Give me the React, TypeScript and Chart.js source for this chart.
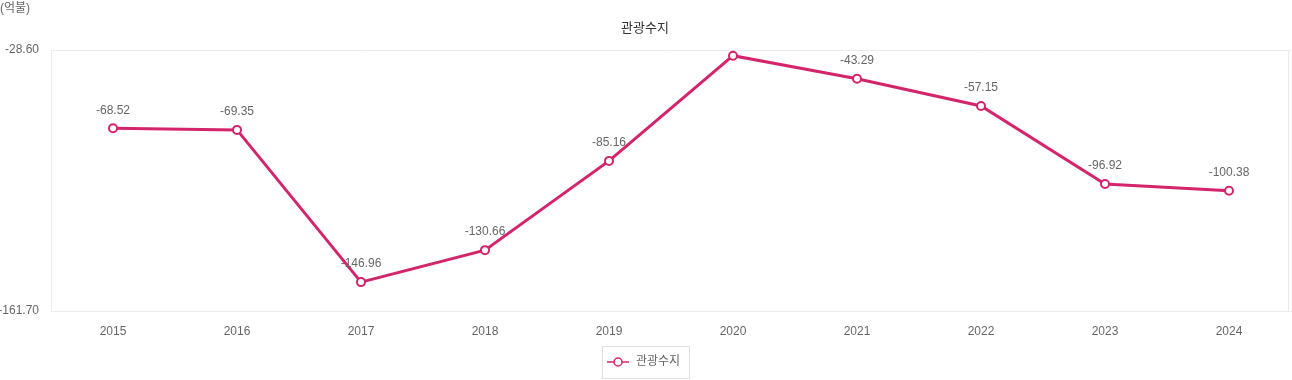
import React, { useEffect, useRef } from "react";
import { Chart, registerables } from "chart.js";

Chart.register(...registerables);

const categories = ["2015", "2016", "2017", "2018", "2019", "2020", "2021", "2022", "2023", "2024"];
const values = [-68.52, -69.35, -146.96, -130.66, -85.16, -31.5, -43.29, -57.15, -96.92, -100.38];
const yTicks = [-161.7, -28.6];
const seriesName = "관광수지";
const titleText = "관광수지";
const unitText = "(억불)";

const FONT = "'Liberation Sans', Arial, 'Noto Sans CJK KR', sans-serif";
const LINE = "#d4246c";

export default function App() {
  const ref = useRef<HTMLCanvasElement | null>(null);
  useEffect(() => {
    if (!ref.current) return;
    const deco = {
      id: "deco",
      afterDraw(chart: any) {
        const ctx = chart.ctx;
        const a = chart.chartArea;
        ctx.save();
        // right border
        ctx.strokeStyle = "#ebebeb";
        ctx.lineWidth = 1;
        ctx.beginPath();
        ctx.moveTo(1288.5, a.top);
        ctx.lineTo(1288.5, a.bottom);
        ctx.stroke();
        // unit
        ctx.fillStyle = "#666";
        ctx.font = "12px " + FONT;
        ctx.textAlign = "left";
        ctx.textBaseline = "middle";
        ctx.fillText(unitText, 0, 9);
        // title
        ctx.fillStyle = "#333";
        ctx.font = "13px " + FONT;
        ctx.textAlign = "center";
        ctx.fillText(titleText, 645, 28);
        // legend
        ctx.strokeStyle = "#e0e0e0";
        ctx.strokeRect(602.5, 346.5, 87, 32);
        ctx.strokeStyle = LINE;
        ctx.lineWidth = 1.5;
        ctx.beginPath();
        ctx.moveTo(607, 362);
        ctx.lineTo(629, 362);
        ctx.stroke();
        ctx.beginPath();
        ctx.arc(618, 362, 4, 0, Math.PI * 2);
        ctx.fillStyle = "#fff";
        ctx.fill();
        ctx.stroke();
        ctx.fillStyle = "#666";
        ctx.font = "12px " + FONT;
        ctx.textAlign = "left";
        ctx.fillText(seriesName, 636, 362);
        // data labels
        const meta = chart.getDatasetMeta(0);
        ctx.font = "12px " + FONT;
        ctx.fillStyle = "#666";
        ctx.textAlign = "center";
        meta.data.forEach((p: any, i: number) => {
          const y = p.y - 18;
          if (y < a.top) return;
          ctx.fillText(values[i].toFixed(2), p.x, y);
        });
        ctx.restore();
      },
    };
    const chart = new Chart(ref.current, {
      type: "line",
      data: {
        labels: categories,
        datasets: [
          {
            label: seriesName,
            data: values,
            borderColor: LINE,
            backgroundColor: "#fff",
            borderWidth: 3,
            pointRadius: 4,
            pointBorderWidth: 2,
            pointBackgroundColor: "#fff",
            pointBorderColor: LINE,
            tension: 0,
            clip: false as any,
          },
        ],
      },
      options: {
        animation: false,
        responsive: false,
        layout: { autoPadding: false, padding: { top: 50, right: 1, left: 0, bottom: 0 } },
        plugins: {
          legend: { display: false },
          title: { display: false },
          tooltip: { enabled: false },
        },
        scales: {
          x: {
            offset: true,
            grid: { display: false, drawTicks: false },
            border: { display: true, color: "#ebebeb" },
            ticks: { color: "#666", font: { size: 12, family: FONT }, padding: 13 },
            afterFit(s: any) {
              s.height = 69;
              s.paddingLeft = 0;
              s.paddingRight = 0;
            },
          },
          y: {
            min: yTicks[0],
            max: yTicks[1],
            grid: { color: "#ebebeb", drawTicks: false },
            border: { display: true, color: "#ebebeb" },
            ticks: {
              color: "#666",
              font: { size: 12, family: FONT },
              padding: 12,
              callback: (v: any) => Number(v).toFixed(2),
            },
            afterBuildTicks(s: any) {
              s.ticks = yTicks.map((v) => ({ value: v }));
            },
            afterFit(s: any) {
              s.width = 51;
              s.paddingTop = 0;
              s.paddingBottom = 0;
            },
          },
        },
      },
      plugins: [deco],
    });
    return () => chart.destroy();
  }, []);
  return (
    <div style={{ position: "absolute", left: 0, top: 0, width: 1292, height: 380 }}>
      <canvas ref={ref} width={1292} height={380} style={{ display: "block" }} />
    </div>
  );
}
